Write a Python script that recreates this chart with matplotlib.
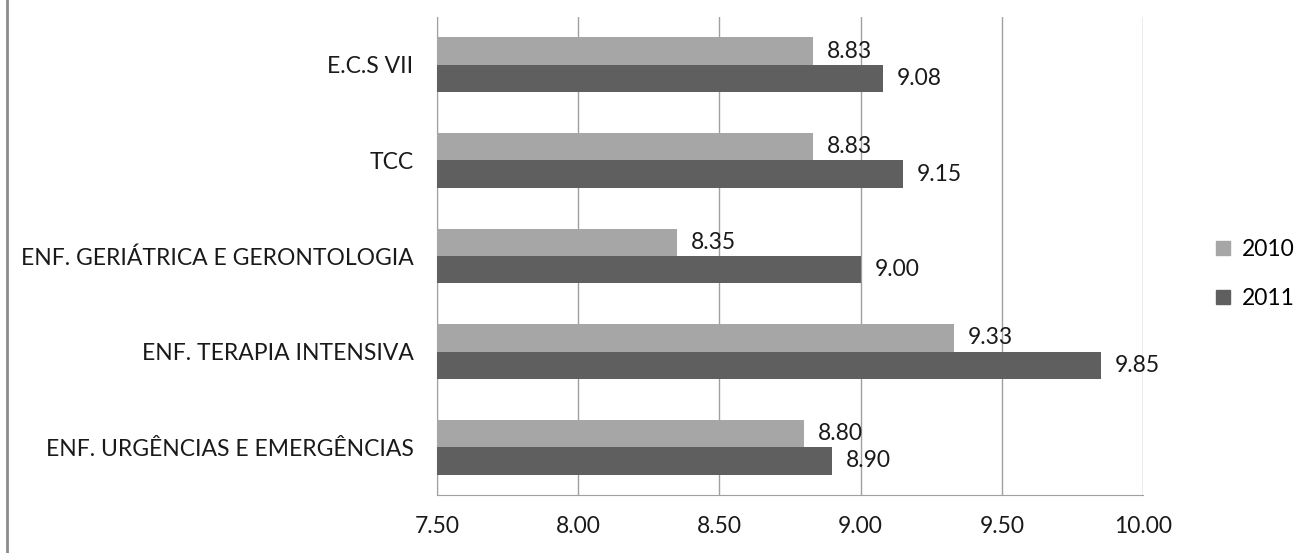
import numpy as np
import matplotlib.pyplot as plt
from matplotlib.lines import Line2D

plt.rcParams['font.family'] = ['Lato', 'DejaVu Sans']

categories = ["ENF. URGÊNCIAS E EMERGÊNCIAS", "ENF. TERAPIA INTENSIVA",
              "ENF. GERIÁTRICA E GERONTOLOGIA", "TCC", "E.C.S VII"]
vals_2010 = [8.80, 9.33, 8.35, 8.83, 8.83]
vals_2011 = [8.90, 9.85, 9.00, 9.15, 9.08]
xticks = [7.50, 8.00, 8.50, 9.00, 9.50, 10.00]

c2010 = '#a6a6a6'
c2011 = '#5f5f5f'
fs = 16.5

fig = plt.figure(figsize=(13.06, 5.53), dpi=100)
ax = fig.add_axes([437 / 1306, 1 - 495 / 553, (1143 - 437) / 1306, (495 - 17) / 553])

y = np.arange(len(categories))
h = 0.286
ax.barh(y + h / 2, [v - 7.5 for v in vals_2010], height=h, left=7.5, color=c2010, label='2010', zorder=3)
ax.barh(y - h / 2, [v - 7.5 for v in vals_2011], height=h, left=7.5, color=c2011, label='2011', zorder=3)

for yy, v in zip(y + h / 2, vals_2010):
    ax.annotate(f"{v:.2f}", (v, yy), xytext=(10, 0), textcoords='offset points',
                va='center', ha='left', fontsize=fs, color='#1a1a1a', zorder=4)
for yy, v in zip(y - h / 2, vals_2011):
    ax.annotate(f"{v:.2f}", (v, yy), xytext=(10, 0), textcoords='offset points',
                va='center', ha='left', fontsize=fs, color='#1a1a1a', zorder=4)

ax.set_xlim(7.5, 10.0)
ax.set_ylim(-0.5, len(categories) - 0.5)
ax.set_xticks(xticks)
ax.set_xticklabels([f"{t:.2f}" for t in xticks], fontsize=fs, color='#1a1a1a')
ax.set_yticks(y)
ax.set_yticklabels(categories, fontsize=fs, color='#1a1a1a')
ax.tick_params(length=0, pad=17, axis='y')
ax.tick_params(length=0, pad=15, axis='x')
ax.grid(axis='x', color='#a0a0a0', lw=1, zorder=0)
for s in ['top', 'right']:
    ax.spines[s].set_visible(False)
for s in ['left', 'bottom']:
    ax.spines[s].set_color('#a0a0a0')

handles = [Line2D([], [], marker='s', ls='', color=c2010, markersize=10),
           Line2D([], [], marker='s', ls='', color=c2011, markersize=10)]
fig.legend(handles, ['2010', '2011'], loc='center left', bbox_to_anchor=(1212 / 1306, 1 - 274 / 553),
           frameon=False, fontsize=fs, handletextpad=0.3, labelspacing=1.2, handlelength=1.0,
           borderpad=0, borderaxespad=0)

fig.add_artist(Line2D([7 / 1306, 7 / 1306], [0, 1], color='#8c8c8c', lw=2))

fig.savefig('out.png', dpi=100)
